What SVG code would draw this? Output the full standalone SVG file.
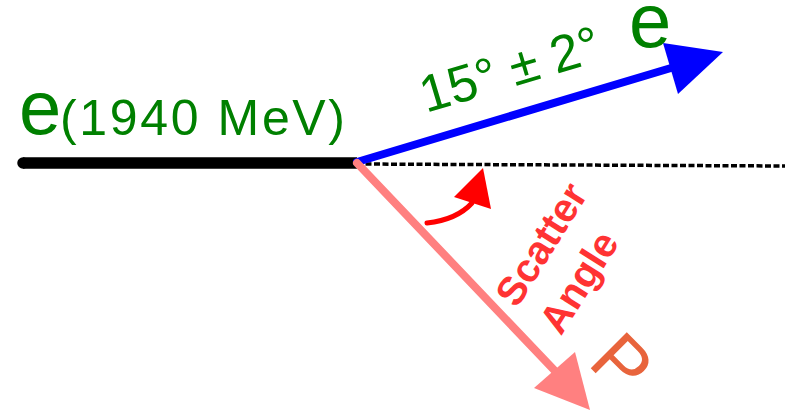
<svg xmlns="http://www.w3.org/2000/svg" width="785" height="412" viewBox="0 0 785 412">
<style>
.lbl{font-family:"Liberation Sans",Arial,sans-serif;fill:#008000}
.big{font-size:76px}
.sc{font-family:"Liberation Sans",Arial,sans-serif;font-weight:bold;font-size:40px;fill:#ff3333}
</style>
<rect width="785" height="412" fill="#ffffff"/>
<g id="connectors">
  <line x1="357" y1="164" x2="785" y2="166" stroke="#000" stroke-width="3.5" stroke-dasharray="6 2.5"/>
  <line x1="23" y1="163" x2="357" y2="163" stroke="#000" stroke-width="11.5"/>
  <circle cx="23" cy="163" r="5.75" fill="#000"/>
  <line x1="357" y1="162" x2="671" y2="68" stroke="#0000ff" stroke-width="8" stroke-linecap="round"/>
  <polygon points="723,52 663,43 678,94" fill="#0000ff"/>
  <line x1="357" y1="163" x2="556" y2="372" stroke="#ff8080" stroke-width="8" stroke-linecap="round"/>
  <polygon points="590,410 534,388 575,352" fill="#ff8080"/>
  <path d="M427,223 C445,221 462,214 472,203" fill="none" stroke="#ff0000" stroke-width="5" stroke-linecap="round"/>
  <polygon points="483,168 454,197 491,209" fill="#ff0000"/>
</g>
<g id="incoming">
  <text class="lbl" x="19" y="134"><tspan class="big">e</tspan></text>
  <text class="lbl" x="60" y="135" font-size="50" textLength="285" lengthAdjust="spacing">(1940 MeV)</text>
</g>
<g id="scattered-e">
  <text class="lbl big" x="629" y="47">e</text>
  <text class="lbl" font-size="52" transform="translate(426,113) rotate(-16.7)">15° ± 2°</text>
</g>
<g id="scatter-angle">
  <text class="sc" transform="translate(517,309) rotate(-58)"><tspan x="0" y="0">Scatter</tspan><tspan x="0" y="52">Angle</tspan></text>
</g>
<g id="proton">
  <text font-family="Liberation Sans, Arial, sans-serif" font-size="74" fill="#e8643c" transform="translate(586.5,364) rotate(45)">P</text>
</g>
</svg>
